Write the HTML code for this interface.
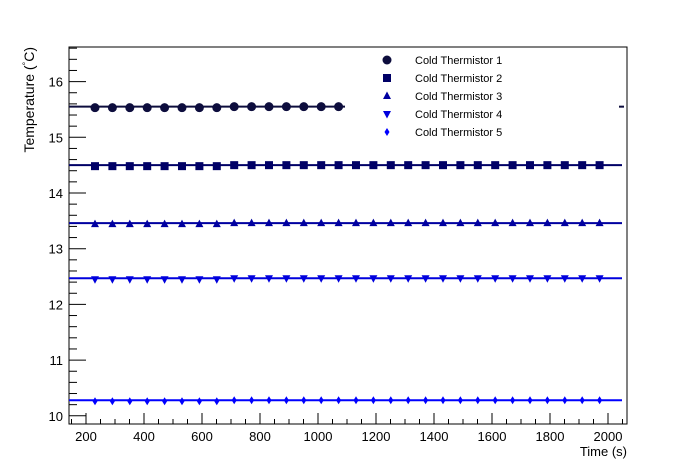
<!DOCTYPE html>
<html><head><style>body{margin:0;background:#fff}svg{display:block}text{font-family:"Liberation Sans",Arial,sans-serif}</style></head>
<body>
<svg id="s" width="696" height="472" xmlns="http://www.w3.org/2000/svg"></svg>
<script>
const s=document.getElementById('s');let h='';
const X=t=>86+(t-200)*0.29, Y=v=>415.8-(v-10)*55.7;
h+='<rect x="69" y="47" width="558" height="377" fill="none" stroke="#000" stroke-width="1"/>';
for(let k=98;k<=166;k+=2){const vv=k/10;const maj=k%10==0;const y=Y(vv);if(y<47||y>424)continue;
h+=`<line x1="69" x2="${69+(maj?17:8)}" y1="${y}" y2="${y}" stroke="#000"/>`;
if(maj)h+=`<text x="63" y="${y+5}" font-size="13" text-anchor="end">${k/10}</text>`;}
for(let t=150;t<=2050;t+=50){const x=X(t);if(x<69||x>627)continue;const maj=t%200==0;
h+=`<line x1="${x}" x2="${x}" y1="424" y2="${424-(maj?11:5)}" stroke="#000"/>`;
if(maj)h+=`<text x="${x}" y="441" font-size="13" text-anchor="middle">${t}</text>`;}
h+='<text x="627" y="456" font-size="13" text-anchor="end">Time (s)</text>';
h+='<text transform="translate(34,47) rotate(-90)" font-size="14" text-anchor="end">Temperature (<tspan dy="-5" font-size="9">°</tspan><tspan dy="5">C)</tspan></text>';
function mk(type,x,y,c){
 if(type==0)return `<circle cx="${x}" cy="${y}" r="4.5" fill="${c}"/>`;
 if(type==1)return `<rect x="${x-4}" y="${y-4}" width="8" height="8" fill="${c}"/>`;
 if(type==2)return `<polygon points="${x},${y-4.5} ${x+4},${y+3} ${x-4},${y+3}" fill="${c}"/>`;
 if(type==3)return `<polygon points="${x},${y+4.5} ${x+4},${y-3} ${x-4},${y-3}" fill="${c}"/>`;
 return `<polygon points="${x},${y-4} ${x+2.5},${y} ${x},${y+4} ${x-2.5},${y}" fill="${c}"/>`;}
const ser=[[15.55,15,'#0d0d3d',345],[14.5,30,'#000066',622],[13.46,30,'#0000a0',622],[12.47,30,'#0000dd',622],[10.28,30,'#0000ff',622]];
ser.forEach((se,i)=>{const y=Y(se[0]);
h+=`<line x1="69" x2="${se[3]}" y1="${y}" y2="${y}" stroke="${se[2]}" stroke-width="2"/>`;
for(let k=0;k<se[1];k++){const t=231+60*k;const off=k<8?1:0;h+=mk(i,X(t),y+off,se[2]);}});
h+=`<line x1="619" x2="624" y1="${Y(15.55)}" y2="${Y(15.55)}" stroke="#0d0d3d" stroke-width="2"/>`;
const names=['Cold Thermistor 1','Cold Thermistor 2','Cold Thermistor 3','Cold Thermistor 4','Cold Thermistor 5'];
names.forEach((n,i)=>{const y=60+i*18;h+=mk(i,387,y,ser[i][2]);h+=`<text x="415" y="${y+4}" font-size="11">${n}</text>`;});
s.innerHTML=h;
</script>
</body></html>
